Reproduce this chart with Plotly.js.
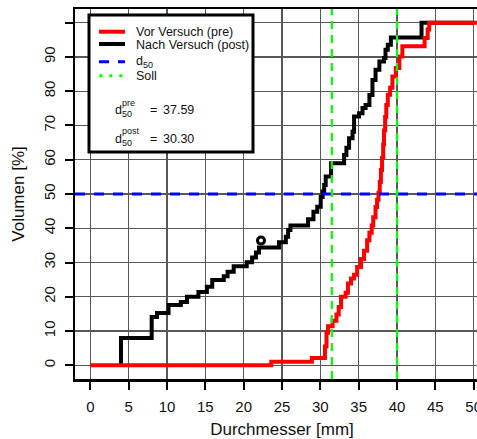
<!DOCTYPE html>
<html>
<head>
<meta charset="utf-8">
<script src="https://cdn.plot.ly/plotly-3.0.1.min.js"></script>
<style>
html,body{margin:0;padding:0;overflow:hidden;background:#fff;}
#chart{width:500px;height:439px;}
</style>
</head>
<body>
<div id="chart"></div>
<script>
// ---- data ----
const postX = [4.0, 4.0, 8.0, 8.7, 10.2, 11.8, 12.6, 14.1, 15.2, 15.9, 17.4, 17.9, 18.7, 20.4, 21.1, 21.6, 22.0, 24.6, 25.5, 25.8, 26.1, 28.4, 29.1, 29.6, 30.05, 30.3, 30.5, 30.7, 31.4, 33.1, 33.4, 33.75, 34.2, 34.4, 35.05, 35.5, 35.9, 36.4, 36.8, 37.2, 37.7, 38.3, 38.5, 38.8, 39.2, 43.2, 50.0];
const postY = [0, 8.0, 14.1, 15.3, 17.6, 18.5, 20.0, 21.4, 22.9, 24.9, 26.0, 27.3, 28.9, 30.1, 31.5, 32.9, 34.4, 35.9, 37.5, 39.5, 40.8, 42.6, 44.8, 46.3, 49.1, 50.7, 52.6, 55.1, 59.0, 61.4, 63.5, 66.3, 68.2, 72.6, 73.6, 75.1, 76.0, 78.9, 83.3, 86.3, 88.7, 89.7, 92.1, 93.6, 95.7, 100, 100];
const preX = [0, 23.6, 28.9, 30.6, 30.8, 31.0, 31.6, 32.1, 32.4, 32.7, 33.3, 33.6, 34.0, 34.4, 34.8, 35.3, 35.7, 36.1, 36.4, 36.7, 36.9, 37.2, 37.4, 37.59, 37.75, 37.9, 38.05, 38.2, 38.3, 38.45, 38.6, 38.8, 39.1, 39.4, 39.85, 40.3, 40.7, 43.6, 44.0, 44.2, 52.0];
const preY = [0, 1.0, 2.1, 5.5, 9.5, 11.4, 13.0, 14.8, 17.0, 20.0, 21.2, 23.9, 25.3, 26.4, 28.7, 31.0, 33.4, 36.5, 38.7, 40.8, 43.2, 46.2, 48.3, 50.3, 53.5, 57.0, 60.5, 64.5, 68.5, 72.5, 76.0, 79.0, 81.0, 84.3, 86.8, 90.1, 93.1, 95.5, 98.0, 100, 100];
const pointX = [22.26];
const pointY = [36.4];
const d50Level = 50;
const sollX = [31.5, 40];
const d50Pre = "37.59";
const d50Post = "30.30";
const seriesNames = ["Vor Versuch (pre)", "Nach Versuch (post)", "d50", "Soll"];
const xTickVals = [0, 5, 10, 15, 20, 25, 30, 35, 40, 45, 50];
const yTickVals = [0, 10, 20, 30, 40, 50, 60, 70, 80, 90, 100];
const yTickText = ["0", "10", "20", "30", "40", "50", "60", "70", "80", "90", ""];
const xRange = [-2, 52];
const yRange = [-4, 104];

// ---- layout geometry ----
const L = 75, T = 9, W = 414, H = 370, FW = 500, FH = 439;
const px = x => (x - L) / W;
const py = y => (T + H - y) / H;
const FONT = "Liberation Sans, Arial, sans-serif";

const sollXs = [], sollYs = [];
sollX.forEach(v => { sollXs.push(v, v, null); sollYs.push(yRange[0], yRange[1], null); });

const traces = [
  {x: postX, y: postY, mode: "lines", line: {shape: "hv", color: "#000000", width: 4}, name: seriesNames[1], showlegend: false},
  {x: pointX, y: pointY, mode: "markers", marker: {symbol: "circle-open", size: 7, color: "#000000", line: {width: 3, color: "#000000"}}, showlegend: false, name: "Punkt"},
  {x: preX, y: preY, mode: "lines", line: {shape: "hv", color: "#ff0000", width: 4}, name: seriesNames[0], showlegend: false},
  {x: xRange, y: [d50Level, d50Level], mode: "lines", line: {color: "#0000ff", width: 3, dash: "10px,9px"}, name: seriesNames[2], showlegend: false},
  {x: sollXs, y: sollYs, mode: "lines", line: {color: "#00ff00", width: 2.2, dash: "8px,6px"}, name: seriesNames[3], showlegend: false}
];

const shapes = [
  {type: "rect", xref: "paper", yref: "paper", x0: px(89), x1: px(253), y0: py(152), y1: py(15), line: {color: "#000", width: 3}, fillcolor: "#ffffff", layer: "above"},
  {type: "line", xref: "paper", yref: "paper", x0: px(99), x1: px(125), y0: py(31.7), y1: py(31.7), line: {color: "#ff0000", width: 4}, layer: "above"},
  {type: "line", xref: "paper", yref: "paper", x0: px(99), x1: px(125), y0: py(44), y1: py(44), line: {color: "#000000", width: 4}, layer: "above"},
  {type: "line", xref: "paper", yref: "paper", x0: px(99), x1: px(125), y0: py(61.7), y1: py(61.7), line: {color: "#0000ff", width: 3, dash: "10px,9px"}, layer: "above"},
  {type: "line", xref: "paper", yref: "paper", x0: px(99.3), x1: px(125), y0: py(75.7), y1: py(75.7), line: {color: "#00ff00", width: 3, dash: "3px,7px"}, layer: "above"}
];

const ann = (text, x, y, size, anchor) => ({text, xref: "paper", yref: "paper", x: px(x), y: py(y), xanchor: anchor || "left", yanchor: "middle", showarrow: false, font: {family: FONT, size, color: "#111"}});
const annotations = [
  ann(seriesNames[0], 133.5, 31.5, 12.5),
  ann(seriesNames[1], 133.5, 44.5, 12.5),
  ann("d", 133.5, 60.5, 12.5),
  ann("50", 140.6, 64.5, 9),
  ann("Soll", 133.5, 75.7, 12.5),
  ann("d", 112.5, 110.5, 12.5),
  ann("50", 119.8, 114.5, 9),
  ann("pre", 120.2, 103.3, 9),
  ann("=", 147.5, 110.5, 12.5),
  ann(d50Pre, 161.2, 110.5, 12.5),
  ann("d", 112.5, 138.5, 12.5),
  ann("50", 119.8, 142.5, 9),
  ann("post", 120.2, 130.8, 9),
  ann("=", 147.5, 138.5, 12.5),
  ann(d50Post, 161.2, 138.5, 12.5)
];

const axisCommon = {
  showgrid: true, gridcolor: "#585858", gridwidth: 1.4,
  zeroline: false, showline: true, linecolor: "#000", linewidth: 2.5, mirror: true,
  ticks: "outside", ticklen: 8, tickwidth: 2, tickcolor: "#000",
  tickfont: {family: FONT, size: 15, color: "#111"}, fixedrange: true
};

const layout = {
  width: FW, height: FH,
  margin: {l: L, r: FW - L - W, t: T, b: FH - T - H, pad: 0},
  paper_bgcolor: "#fff", plot_bgcolor: "#fff",
  showlegend: false,
  xaxis: Object.assign({}, axisCommon, {range: xRange, tickvals: xTickVals, ticklabelstandoff: 4,
    title: {text: "Durchmesser [mm]", font: {family: FONT, size: 17, color: "#111"}, standoff: 14}}),
  yaxis: Object.assign({}, axisCommon, {range: yRange, tickvals: yTickVals, ticktext: yTickText, tickangle: -90, ticklabelstandoff: 4,
    title: {text: "Volumen [%]", font: {family: FONT, size: 17, color: "#111"}, standoff: 12}}),
  shapes, annotations
};

Plotly.newPlot("chart", traces, layout, {staticPlot: true, displayModeBar: false});
</script>
</body>
</html>
